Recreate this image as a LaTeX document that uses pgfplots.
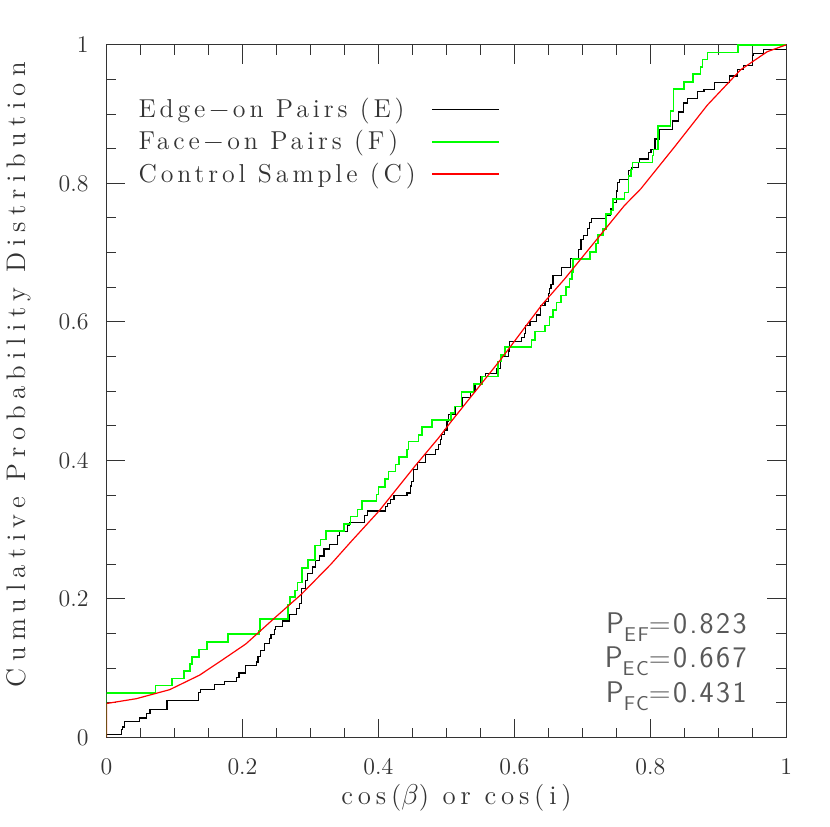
\documentclass[border=0pt]{standalone}
\usepackage{fontspec}
\usepackage{pgfplots}
\pgfplotsset{compat=1.18}

\newfontfamily\hfam{Latin Modern Roman}[LetterSpace=15]
\newfontfamily\xfam{Latin Modern Roman}[LetterSpace=18]
\newfontfamily\yfam{Latin Modern Roman}[LetterSpace=24]
\newfontfamily\psans{Latin Modern Sans}[LetterSpace=8]
\newcommand{\hfont}{\hfam\fontsize{13}{15}\selectfont}

\begin{document}
\begin{tikzpicture}
\begin{axis}[
    scale only axis,
    width=341.5pt, height=348pt,
    xmin=0, xmax=1, ymin=0, ymax=1,
    xtick={0,0.2,0.4,0.6,0.8,1},
    ytick={0,0.2,0.4,0.6,0.8,1},
    minor tick num=3,
    major tick length=9.5pt,
    minor tick length=5pt,
    tick style={black!80, line width=0.5pt},
    axis line style={black!80, line width=0.6pt},
    tick label style={font=\fontsize{13}{15}\selectfont, text=black!80},
    xticklabel style={yshift=-7.5pt},
    yticklabel style={xshift=-5.5pt},
    xlabel={cos($\beta$) or cos(i)},
    ylabel={Cumulative Probability Distribution},
    label style={text=black!80},
    xlabel style={font=\xfam\fontsize{13.5}{15}\selectfont,
        at={(axis description cs:0.515,-0.087)}, anchor=center},
    ylabel style={font=\yfam\fontsize{13.5}{15}\selectfont,
        at={(axis description cs:-0.129,0.524)}, anchor=center},
    legend plot pos=right,
    legend cell align=left,
    legend image code/.code={\draw[#1] (0pt,0pt) -- (33.5pt,0pt);},
    legend style={draw=none, fill=none, font=\hfont, text=black!80,
        at={(axis description cs:0.032,0.935)}, anchor=north west,
        row sep=1pt,
        /tikz/every odd column/.append style={column sep=6pt}},
]
\addplot[const plot, black, line width=0.6pt] coordinates {
(0,0) (0,0.004) (0.022,0.011) (0.024,0.015) (0.026,0.018) (0.027,0.023)
(0.048,0.028) (0.059,0.035) (0.064,0.040) (0.089,0.053) (0.135,0.065)
(0.138,0.069) (0.159,0.076) (0.174,0.081) (0.191,0.087) (0.195,0.093)
(0.205,0.104) (0.221,0.109) (0.223,0.117) (0.227,0.126) (0.232,0.136)
(0.240,0.143) (0.242,0.149) (0.247,0.156) (0.249,0.160) (0.259,0.168)
(0.269,0.178) (0.279,0.186) (0.284,0.193) (0.287,0.215) (0.293,0.227)
(0.296,0.237) (0.303,0.246) (0.308,0.255) (0.313,0.262) (0.320,0.272)
(0.328,0.279) (0.340,0.291) (0.343,0.297) (0.354,0.306) (0.357,0.310)
(0.380,0.320) (0.384,0.327) (0.410,0.334) (0.413,0.338) (0.418,0.344)
(0.423,0.349) (0.442,0.353) (0.447,0.363) (0.449,0.370) (0.452,0.387)
(0.457,0.397) (0.469,0.408) (0.484,0.416) (0.489,0.423) (0.491,0.430)
(0.493,0.437) (0.497,0.444) (0.501,0.456) (0.503,0.466) (0.513,0.478)
(0.523,0.491) (0.535,0.499) (0.542,0.509) (0.551,0.521) (0.557,0.526)
(0.574,0.533) (0.580,0.543) (0.581,0.550) (0.591,0.558) (0.593,0.572)
(0.611,0.578) (0.615,0.583) (0.616,0.595) (0.623,0.601) (0.633,0.610)
(0.639,0.624) (0.645,0.629) (0.650,0.641) (0.652,0.648) (0.654,0.654)
(0.657,0.667) (0.669,0.679) (0.683,0.691) (0.694,0.705) (0.698,0.719)
(0.702,0.725) (0.708,0.735) (0.711,0.744) (0.713,0.749) (0.735,0.754)
(0.742,0.763) (0.745,0.772) (0.750,0.789) (0.752,0.801) (0.755,0.806)
(0.768,0.818) (0.772,0.823) (0.783,0.830) (0.784,0.835) (0.797,0.844)
(0.801,0.849) (0.807,0.864) (0.813,0.878) (0.833,0.890) (0.841,0.903)
(0.849,0.916) (0.855,0.923) (0.869,0.932) (0.879,0.935) (0.895,0.946)
(0.917,0.955) (0.928,0.964) (0.937,0.970) (0.950,0.984) (0.952,0.988)
(0.967,0.993) (1.0,1.0)
};
\addlegendentry{Edge−on Pairs (E)}
\addplot[const plot, green, line width=0.8pt] coordinates {
(0,0) (0,0.064) (0.072,0.075) (0.096,0.085) (0.114,0.096) (0.123,0.106)
(0.126,0.116) (0.136,0.127) (0.148,0.138) (0.179,0.149) (0.224,0.154)
(0.226,0.171) (0.267,0.192) (0.270,0.203) (0.277,0.212) (0.281,0.224)
(0.288,0.245) (0.296,0.256) (0.307,0.277) (0.315,0.286) (0.323,0.298)
(0.349,0.308) (0.359,0.319) (0.369,0.329) (0.376,0.341) (0.397,0.351)
(0.400,0.362) (0.410,0.373) (0.415,0.384) (0.425,0.394) (0.430,0.405)
(0.442,0.416) (0.444,0.427) (0.459,0.437) (0.464,0.448) (0.479,0.458)
(0.507,0.468) (0.512,0.478) (0.522,0.499) (0.540,0.510) (0.552,0.521)
(0.576,0.543) (0.580,0.552) (0.586,0.564) (0.625,0.574) (0.630,0.586)
(0.645,0.595) (0.652,0.607) (0.657,0.617) (0.662,0.628) (0.669,0.638)
(0.676,0.650) (0.681,0.662) (0.685,0.672) (0.686,0.691) (0.711,0.701)
(0.720,0.713) (0.723,0.725) (0.730,0.734) (0.735,0.756) (0.742,0.761)
(0.745,0.777) (0.762,0.787) (0.768,0.811) (0.772,0.820) (0.774,0.830)
(0.803,0.840) (0.805,0.849) (0.811,0.883) (0.830,0.904) (0.834,0.936)
(0.850,0.946) (0.863,0.958) (0.874,0.968) (0.877,0.979) (0.884,0.989)
(0.929,1.0) (1,1)
};
\addlegendentry{Face−on Pairs (F)}
\addplot[red, line width=0.6pt] coordinates {
(0,0) (0,0.049) (0.044,0.056) (0.093,0.069) (0.137,0.090) (0.166,0.109)
(0.205,0.135) (0.249,0.174) (0.287,0.207) (0.330,0.250) (0.360,0.283)
(0.401,0.327) (0.454,0.392) (0.489,0.433) (0.507,0.456) (0.581,0.547)
(0.640,0.624) (0.674,0.662) (0.698,0.691) (0.762,0.768) (0.786,0.792)
(0.836,0.853) (0.884,0.913) (0.933,0.964) (0.972,0.990) (1,1)
};
\addlegendentry{Control Sample (C)}

\node[anchor=base east, font=\psans\fontsize{15}{18}\selectfont, text=black!65]
  at (axis description cs:0.952,0.150) {P\raisebox{-0.6ex}{\fontsize{10}{12}\selectfont EF}=0.823};
\node[anchor=base east, font=\psans\fontsize{15}{18}\selectfont, text=black!65]
  at (axis description cs:0.952,0.101) {P\raisebox{-0.6ex}{\fontsize{10}{12}\selectfont EC}=0.667};
\node[anchor=base east, font=\psans\fontsize{15}{18}\selectfont, text=black!65]
  at (axis description cs:0.952,0.050) {P\raisebox{-0.6ex}{\fontsize{10}{12}\selectfont FC}=0.431};

\coordinate (bbl) at (axis description cs:-0.1508,-0.1279);
\coordinate (btr) at (axis description cs:1.0644,1.0647);
\end{axis}
\path (bbl) rectangle (btr);
\end{tikzpicture}
\end{document}
